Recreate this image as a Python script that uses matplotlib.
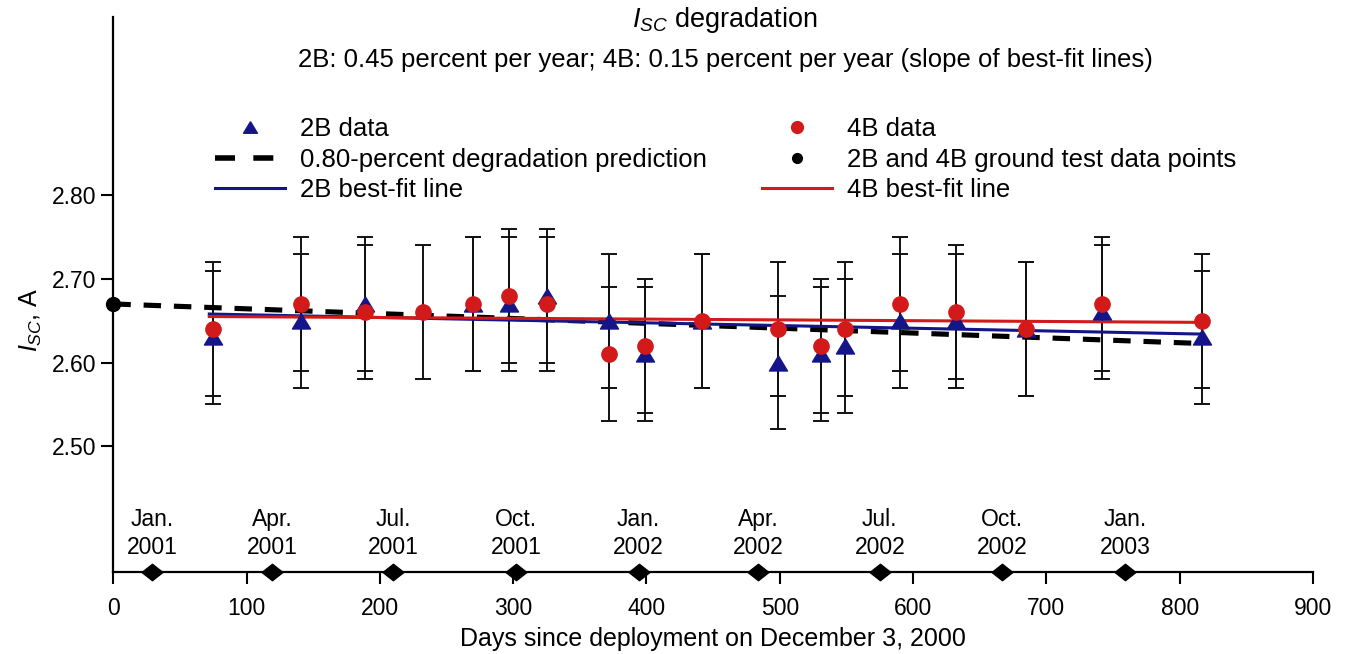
import numpy as np
import matplotlib
matplotlib.use('Agg')
import matplotlib.pyplot as plt
from matplotlib.lines import Line2D

plt.rcParams['font.family'] = ['Liberation Sans', 'DejaVu Sans']
plt.rcParams['mathtext.fontset'] = 'custom'
plt.rcParams['mathtext.rm'] = 'Liberation Sans'
plt.rcParams['mathtext.it'] = 'Liberation Sans:italic'

# --- dados ---
days_2b = [75, 141, 189, 270, 297, 325, 372, 399, 442, 499, 531, 549, 590, 632, 685, 742, 817]
isc_2b = [2.63, 2.65, 2.67, 2.67, 2.67, 2.68, 2.65, 2.61, 2.65, 2.60, 2.61, 2.62, 2.65, 2.65, 2.64, 2.66, 2.63]
days_4b = [75, 141, 189, 232, 270, 297, 325, 372, 399, 442, 499, 531, 549, 590, 632, 685, 742, 817]
isc_4b = [2.64, 2.67, 2.66, 2.66, 2.67, 2.68, 2.67, 2.61, 2.62, 2.65, 2.64, 2.62, 2.64, 2.67, 2.66, 2.64, 2.67, 2.65]
isc_err = 0.08

pred_days = [0, 812]
pred_isc = [2.670, 2.623]

fit_days = [72, 817]
fit_2b = [2.658, 2.634]
fit_4b = [2.655, 2.648]

ground_days = [0]
ground_isc = [2.67]

month_days = [29, 119, 210, 302, 394, 484, 575, 667, 759]
month_labels = ['Jan.\n2001', 'Apr.\n2001', 'Jul.\n2001', 'Oct.\n2001', 'Jan.\n2002',
                'Apr.\n2002', 'Jul.\n2002', 'Oct.\n2002', 'Jan.\n2003']

x_ticks = [0, 100, 200, 300, 400, 500, 600, 700, 800, 900]
y_ticks = [2.50, 2.60, 2.70, 2.80]

blue = '#15158a'
red = '#d21a1a'

# marcadores: triangulo um pouco achatado e losango largo
tri = [(0, 0.83), (-1, -0.83), (1, -0.83), (0, 0.83)]
diamond = [(-1, 0), (0, 0.79), (1, 0), (0, -0.79), (-1, 0)]

fig = plt.figure(figsize=(13.5, 6.54), dpi=100)
ax = fig.add_axes([113.3 / 1350, 1 - 571.7 / 654, (1313 - 113.3) / 1350, (571.7 - 17) / 654])

ax.errorbar(days_2b, isc_2b, yerr=isc_err, fmt='none', ecolor='#111111',
            elinewidth=1.4, capsize=6, capthick=1.4, zorder=2)
ax.errorbar(days_4b, isc_4b, yerr=isc_err, fmt='none', ecolor='#111111',
            elinewidth=1.4, capsize=6, capthick=1.4, zorder=2)

ax.plot(pred_days, pred_isc, color='black', lw=3.7, dashes=(3.4, 2.5),
        dash_capstyle='butt', zorder=3)
ax.plot(fit_days, fit_2b, color=blue, lw=2.2, zorder=4)
ax.plot(fit_days, fit_4b, color=red, lw=2.2, zorder=4)

ax.plot(days_2b, isc_2b, ls='none', marker=tri, ms=13, color=blue, zorder=5)
ax.plot(days_4b, isc_4b, ls='none', marker='o', ms=11, color=red, mec=red, zorder=6)
ax.plot(ground_days, ground_isc, ls='none', marker='o', ms=10, color='black',
        zorder=7, clip_on=False)

# marcos de calendario sobre o eixo x
ax.plot(month_days, [2.35] * len(month_days), ls='none', marker=diamond, ms=15,
        color='black', zorder=8, clip_on=False)
for d, lab in zip(month_days, month_labels):
    ax.annotate(lab, xy=(d, 2.35), xytext=(0, 9), textcoords='offset points',
                ha='center', va='bottom', fontsize=16.5, linespacing=1.3,
                annotation_clip=False)

ax.set_xlim(0, 900)
ax.set_ylim(2.35, 3.013)
ax.set_xticks(x_ticks)
ax.set_yticks(y_ticks)
ax.set_yticklabels([f'{v:.2f}' for v in y_ticks])
ax.tick_params(axis='both', direction='out', length=8.5, width=1.5,
               labelsize=16.5, color='black')
ax.tick_params(axis='x', pad=9.5)
ax.tick_params(axis='y', pad=4)

for s in ['top', 'right']:
    ax.spines[s].set_visible(False)
for s in ['left', 'bottom']:
    ax.spines[s].set_linewidth(1.6)

ax.set_xlabel('Days since deployment on December 3, 2000', fontsize=18, labelpad=5)
ax.set_ylabel('$I_{SC}$, A', fontsize=18)
ax.yaxis.set_label_coords(-0.058, 0.454)

fig.text(725 / 1350, 1 - 20 / 654, '$I_{SC}$ degradation', ha='center', va='center',
         fontsize=19.5)
fig.text(725 / 1350, 1 - 60 / 654,
         '2B: 0.45 percent per year; 4B: 0.15 percent per year (slope of best-fit lines)',
         ha='center', va='center', fontsize=18.5)

# legenda em duas colunas separadas
h_2b = Line2D([], [], ls='none', marker=tri, ms=10, color=blue)
h_pred = Line2D([], [], color='black', lw=4, dashes=(3.6, 3.3), dash_capstyle='butt')
h_fit2 = Line2D([], [], color=blue, lw=2.2)
h_4b = Line2D([], [], ls='none', marker='o', ms=8.5, color=red)
h_gr = Line2D([], [], ls='none', marker='o', ms=7, color='black')
h_fit4 = Line2D([], [], color=red, lw=2.2)

leg_kw = dict(frameon=False, fontsize=18.5, handlelength=2.72, handletextpad=0.58,
              labelspacing=0.26, borderpad=0, borderaxespad=0, loc='upper left')
leg1 = fig.legend([h_2b, h_pred, h_fit2],
                  ['2B data', '0.80-percent degradation prediction', '2B best-fit line'],
                  bbox_to_anchor=(215 / 1350, 1 - 117 / 654), **leg_kw)
leg2 = fig.legend([h_4b, h_gr, h_fit4],
                  ['4B data', '2B and 4B ground test data points', '4B best-fit line'],
                  bbox_to_anchor=(762 / 1350, 1 - 117 / 654), **leg_kw)

fig.savefig('out.png', dpi=100)
